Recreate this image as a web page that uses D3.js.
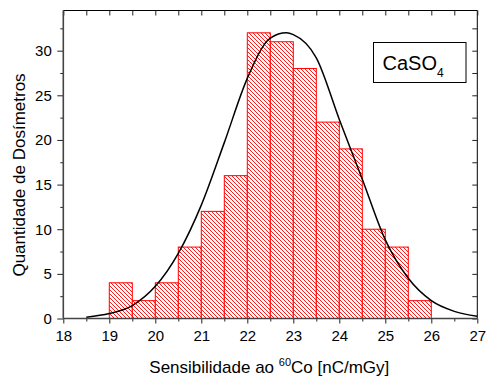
<!DOCTYPE html>
<html>
<head>
<meta charset="utf-8">
<script src="https://cdn.jsdelivr.net/npm/d3@7"></script>
<style>
  body { margin: 0; background: #fff; }
  svg { display: block; font-family: Arial, "Liberation Sans", sans-serif; }
</style>
</head>
<body>
<svg width="487" height="378"></svg>
<script>
// histogram bins (left edges), bin width 0.5
const binStarts = [19, 19.5, 20, 20.5, 21, 21.5, 22, 22.5, 23, 23.5, 24, 24.5, 25, 25.5]
const counts = [4, 2, 4, 8, 12, 16, 32, 31, 28, 22, 19, 10, 8, 2]
const binWidth = 0.5

// fitted curve
const fitX = [18.5, 19, 19.5, 20, 20.5, 21, 21.5, 22, 22.5, 22.85, 23, 23.5, 24, 24.5, 25, 25.5, 26, 26.5, 27]
const fitY = [0.15, 0.55, 1.45, 3.6, 7.3, 12.7, 19.7, 26.9, 31.4, 32.0, 31.8, 29.2, 22.3, 15.6, 8.8, 4.5, 2.0, 0.8, 0.25]

const xTicks = [18, 19, 20, 21, 22, 23, 24, 25, 26, 27]
const yTicks = [0, 5, 10, 15, 20, 25, 30]

const svg = d3.select("svg")
const pLeft = 63.3, pRight = 477.3, pTop = 10.5, pBottom = 318.5

const x = d3.scaleLinear().domain([18, 27]).range([pLeft, pRight])
const y = d3.scaleLinear().domain([0, 34.5]).range([pBottom, pTop])

const halfTicks = d3.range(18, 27.01, 0.5)
const minorY = d3.range(0, 34.5, 2.5)

// hatch pattern
svg.append("defs")
  .append("pattern")
  .attr("id", "hatch")
  .attr("patternUnits", "userSpaceOnUse")
  .attr("width", 4)
  .attr("height", 4)
  .call((p) => {
    p.append("rect").attr("width", 4).attr("height", 4).attr("fill", "#fff")
    p.append("path")
      .attr("d", "M-1,-1 L5,5 M-1,3 L1,5 M3,-1 L5,1")
      .attr("stroke", "#ff0000")
      .attr("stroke-width", 0.9)
  })

// bars
svg.append("g")
  .selectAll("rect")
  .data(binStarts)
  .join("rect")
  .attr("x", (d) => x(d))
  .attr("y", (d, i) => y(counts[i]))
  .attr("width", (d) => x(d + binWidth) - x(d))
  .attr("height", (d, i) => y(0) - y(counts[i]))
  .attr("fill", "url(#hatch)")
  .attr("stroke", "#ff0000")
  .attr("stroke-width", 1)

// fit curve
const line = d3.line()
  .x((d) => x(d[0]))
  .y((d) => y(d[1]))
  .curve(d3.curveMonotoneX)

svg.append("path")
  .datum(fitX.map((v, i) => [v, fitY[i]]))
  .attr("d", line)
  .attr("fill", "none")
  .attr("stroke", "#000")
  .attr("stroke-width", 1.5)

// frame top/right
svg.append("line")
  .attr("x1", pLeft).attr("x2", pRight).attr("y1", pTop).attr("y2", pTop)
  .attr("stroke", "#000").attr("stroke-width", 1)
svg.append("line")
  .attr("x1", pRight).attr("x2", pRight).attr("y1", pTop).attr("y2", pBottom)
  .attr("stroke", "#000").attr("stroke-width", 1)

const styleAxis = (g, size) => {
  g.select(".domain").remove()
  g.selectAll(".tick line").attr("stroke", "#222").attr("stroke-width", 1)
  g.selectAll(".tick text").attr("font-size", size).attr("fill", "#000")
    .attr("font-family", "Arial, 'Liberation Sans', sans-serif")
}

// top ticks (inward)
svg.append("g")
  .attr("transform", `translate(0,${pTop})`)
  .call(d3.axisBottom(x).tickValues(halfTicks).tickSize(5).tickFormat(""))
  .call((g) => styleAxis(g, 0))

// right ticks (inward)
svg.append("g")
  .attr("transform", `translate(${pRight},0)`)
  .call(d3.axisLeft(y).tickValues(minorY).tickSize(5).tickFormat(""))
  .call((g) => styleAxis(g, 0))

// bottom axis
svg.append("g")
  .attr("transform", `translate(0,${pBottom})`)
  .call(d3.axisBottom(x).tickValues(halfTicks.filter((d) => d % 1 !== 0)).tickSize(3).tickFormat(""))
  .call((g) => styleAxis(g, 0))
svg.append("g")
  .attr("transform", `translate(0,${pBottom})`)
  .call(d3.axisBottom(x).tickValues(xTicks).tickSize(5).tickPadding(7).tickFormat(d3.format("d")))
  .call((g) => styleAxis(g, 15))

// left axis
svg.append("g")
  .attr("transform", `translate(${pLeft},0)`)
  .call(d3.axisLeft(y).tickValues(minorY.filter((d) => d % 5 !== 0)).tickSize(3).tickFormat(""))
  .call((g) => styleAxis(g, 0))
svg.append("g")
  .attr("transform", `translate(${pLeft},0)`)
  .call(d3.axisLeft(y).tickValues(yTicks).tickSize(6).tickPadding(5.5).tickFormat(d3.format("d")))
  .call((g) => styleAxis(g, 15))

// axis lines left/bottom
svg.append("line")
  .attr("x1", pLeft).attr("x2", pRight).attr("y1", pBottom).attr("y2", pBottom)
  .attr("stroke", "#444").attr("stroke-width", 1.6)
svg.append("line")
  .attr("x1", pLeft).attr("x2", pLeft).attr("y1", pTop).attr("y2", pBottom)
  .attr("stroke", "#444").attr("stroke-width", 1.6)

// axis titles
const xt = svg.append("text")
  .attr("x", (pLeft + pRight) / 2 - 1)
  .attr("y", 373)
  .attr("text-anchor", "middle")
  .attr("font-size", 17)
xt.append("tspan").text("Sensibilidade ao ")
xt.append("tspan").attr("font-size", 11).attr("dy", -7).text("60")
xt.append("tspan").attr("dy", 7).text("Co [nC/mGy]")

svg.append("text")
  .attr("transform", "translate(25,175) rotate(-90)")
  .attr("text-anchor", "middle")
  .attr("font-size", 17)
  .text("Quantidade de Dosímetros")

// label box
svg.append("rect")
  .attr("x", 373.5).attr("y", 42.5)
  .attr("width", 92.5).attr("height", 40)
  .attr("fill", "#fff")
  .attr("stroke", "#000")
  .attr("stroke-width", 1)
const lb = svg.append("text")
  .attr("x", 382.5)
  .attr("y", 69.5)
  .attr("font-size", 20)
lb.append("tspan").text("CaSO")
lb.append("tspan").attr("font-size", 12).attr("dy", 7).text("4")
</script>
</body>
</html>
